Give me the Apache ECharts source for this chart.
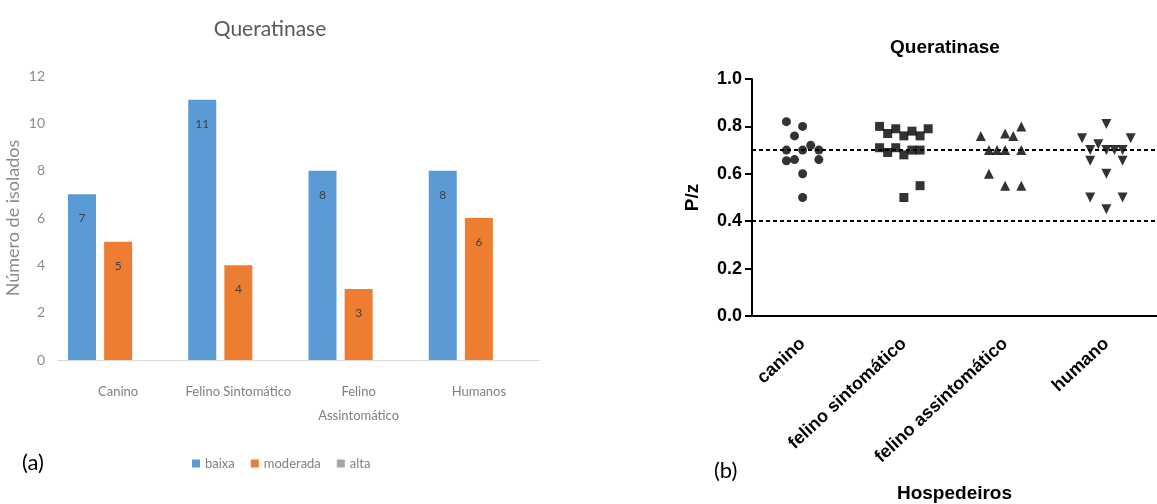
<!DOCTYPE html>
<html>
<head>
<meta charset="utf-8">
<script src="https://cdn.jsdelivr.net/npm/echarts@6/dist/echarts.min.js"></script>
<style>
  html, body { margin: 0; padding: 0; background: #fff; }
  #chart { width: 1157px; height: 504px; }
</style>
</head>
<body>
<div id="chart"></div>
<script>
// (a) bar chart
const barCategories = ['Canino', 'Felino Sintomático', 'Felino\nAssintomático', 'Humanos']
const baixa = [7, 11, 8, 8]
const moderada = [5, 4, 3, 6]
const alta = [0, 0, 0, 0]

// (b) dot plot: category index + horizontal jitter, P/z value
const hosts = ['canino', 'felino sintomático', 'felino assintomático', 'humano']
const caninoOff = [-0.16, 0, -0.08, -0.16, 0, 0.08, 0.16, -0.16, -0.08, 0.16, 0, 0]
const caninoPz = [0.82, 0.80, 0.76, 0.70, 0.70, 0.72, 0.70, 0.655, 0.66, 0.66, 0.60, 0.50]
const felSintOff = [-0.24, -0.16, -0.08, 0, 0.08, 0.16, 0.24, -0.24, -0.16, -0.08, 0, 0.08, 0.16, 0, 0.16]
const felSintPz = [0.80, 0.77, 0.79, 0.76, 0.78, 0.76, 0.79, 0.71, 0.69, 0.71, 0.68, 0.70, 0.70, 0.50, 0.55]
const felAssOff = [-0.24, 0, 0.08, 0.16, -0.16, -0.08, 0, 0.16, -0.16, 0, 0.16]
const felAssPz = [0.76, 0.77, 0.76, 0.80, 0.70, 0.70, 0.70, 0.70, 0.60, 0.55, 0.55]
const humanoOff = [-0.24, -0.08, 0, 0.24, -0.16, 0, 0.08, 0.16, -0.16, 0.16, 0, -0.16, 0.16, 0]
const humanoPz = [0.75, 0.725, 0.81, 0.75, 0.70, 0.70, 0.70, 0.70, 0.655, 0.655, 0.60, 0.50, 0.50, 0.45]
const cutoffs = [0.7, 0.4]

const pts = (idx, off, vals) => vals.map((v, i) => [idx + off[i], v])

const barFont = 'Lato, "Open Sans", sans-serif'
const gpFont = '"Liberation Sans", Arial, sans-serif'

const instance = echarts.init(document.getElementById('chart'))
const option = {
  animation: false,
  title: [{
    text: 'Queratinase',
    left: 265,
    top: 14,
    textAlign: 'center',
    textStyle: { fontFamily: barFont, fontSize: 21, fontWeight: 'normal', color: '#595959' }
  }, {
    text: 'Queratinase',
    left: 940,
    top: 33,
    textAlign: 'center',
    textStyle: { fontFamily: gpFont, fontSize: 19, fontWeight: 'bold', color: '#000' }
  }],
  legend: {
    data: ['baixa', 'moderada', 'alta'],
    left: 187,
    top: 452,
    icon: 'rect',
    itemWidth: 8,
    itemHeight: 8,
    itemGap: 16,
    textStyle: { fontFamily: barFont, fontSize: 13, color: '#7f7f7f' }
  },
  graphic: [
    { type: 'text', left: 22, top: 452, style: { text: '(a)', font: '22px Lato, sans-serif', fill: '#000' } },
    { type: 'text', left: 714, top: 460, style: { text: '(b)', font: '22px Lato, sans-serif', fill: '#000' } }
  ],
  grid: [
    { left: 58, width: 481, top: 76, bottom: 144 },
    { left: 752, right: 0, top: 79, bottom: 182 }
  ],
  xAxis: [{
    gridIndex: 0,
    type: 'category',
    data: barCategories,
    axisLine: { lineStyle: { color: '#d9d9d9' } },
    axisTick: { show: false },
    axisLabel: { interval: 0, margin: 20, fontFamily: barFont, fontSize: 13, color: '#7f7f7f', lineHeight: 24 }
  }, {
    gridIndex: 1,
    type: 'category',
    data: hosts,
    axisLine: { lineStyle: { color: '#000', width: 2 } },
    axisTick: { alignWithLabel: true, length: 8, lineStyle: { color: '#000', width: 2 } },
    axisLabel: { interval: 0, rotate: 43, margin: 25, fontFamily: gpFont, fontSize: 18, fontWeight: 'bold', color: '#000' },
    name: 'Hospedeiros',
    nameLocation: 'middle',
    nameGap: 168,
    nameTextStyle: { fontFamily: gpFont, fontSize: 19, fontWeight: 'bold', color: '#000' }
  }, {
    gridIndex: 1,
    type: 'value',
    min: -0.5,
    max: 3.5,
    show: false
  }],
  yAxis: [{
    gridIndex: 0,
    type: 'value',
    min: 0,
    max: 12,
    interval: 2,
    axisLine: { show: false },
    axisTick: { show: false },
    splitLine: { show: false },
    axisLabel: { margin: 13, fontFamily: barFont, fontSize: 14, color: '#8c8c8c' },
    name: 'Número de isolados',
    nameLocation: 'middle',
    nameGap: 36,
    nameTextStyle: { fontFamily: barFont, fontSize: 18, color: '#8c8c8c' }
  }, {
    gridIndex: 1,
    type: 'value',
    min: 0,
    max: 1,
    interval: 0.2,
    axisLine: { show: true, onZero: false, lineStyle: { color: '#000', width: 2 } },
    axisTick: { show: true, length: 7, lineStyle: { color: '#000', width: 2 } },
    splitLine: { show: false },
    axisLabel: {
      margin: 10, fontFamily: gpFont, fontSize: 18, fontWeight: 'bold', color: '#000',
      formatter: (v) => v.toFixed(1)
    },
    name: 'P/z',
    nameLocation: 'middle',
    nameGap: 50,
    nameTextStyle: { fontFamily: gpFont, fontSize: 19, fontWeight: 'bold', color: '#000' }
  }],
  series: [
    {
      name: 'baixa',
      type: 'bar',
      data: baixa,
      barWidth: 28,
      barGap: '29%',
      itemStyle: { color: '#5b9bd5' },
      label: { show: true, position: 'insideTop', distance: 18, fontFamily: barFont, fontSize: 12, color: '#404040' }
    },
    {
      name: 'moderada',
      type: 'bar',
      data: moderada,
      barWidth: 28,
      barGap: '29%',
      itemStyle: { color: '#ed7d31' },
      label: { show: true, position: 'insideTop', distance: 18, fontFamily: barFont, fontSize: 12, color: '#404040' }
    },
    {
      name: 'alta',
      type: 'bar',
      data: alta,
      barWidth: 28,
      barGap: '29%',
      itemStyle: { color: '#a5a5a5' }
    },
    {
      name: 'canino',
      type: 'scatter',
      xAxisIndex: 2,
      yAxisIndex: 1,
      symbol: 'circle',
      symbolSize: 9,
      itemStyle: { color: '#000' },
      data: pts(0, caninoOff, caninoPz),
      markLine: {
        silent: true,
        symbol: 'none',
        label: { show: false },
        lineStyle: { color: '#000', width: 2, type: [4, 3] },
        data: cutoffs.map(v => ({ yAxis: v }))
      }
    },
    {
      name: 'felino sintomático',
      type: 'scatter',
      xAxisIndex: 2,
      yAxisIndex: 1,
      symbol: 'rect',
      symbolSize: 9,
      itemStyle: { color: '#000' },
      data: pts(1, felSintOff, felSintPz)
    },
    {
      name: 'felino assintomático',
      type: 'scatter',
      xAxisIndex: 2,
      yAxisIndex: 1,
      symbol: 'triangle',
      symbolSize: 10,
      itemStyle: { color: '#000' },
      data: pts(2, felAssOff, felAssPz)
    },
    {
      name: 'humano',
      type: 'scatter',
      xAxisIndex: 2,
      yAxisIndex: 1,
      symbol: 'triangle',
      symbolRotate: 180,
      symbolSize: 10,
      itemStyle: { color: '#000' },
      data: pts(3, humanoOff, humanoPz)
    }
  ]
}
instance.setOption(option)
</script>
</body>
</html>
